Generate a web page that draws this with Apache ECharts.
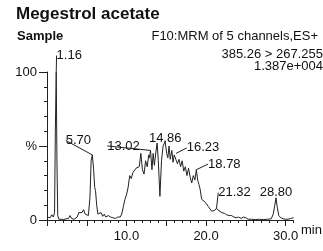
<!DOCTYPE html>
<html>
<head>
<meta charset="utf-8">
<script src="https://cdn.jsdelivr.net/npm/echarts@6/dist/echarts.min.js"></script>
<style>
  html, body { margin: 0; padding: 0; background: #fff; }
  #chart { width: 323px; height: 251px; }
</style>
</head>
<body>
<div id="chart"></div>
<script>
// retention time (min) and relative intensity (%) of the trace
var times = [0.0, 0.2, 0.4, 0.6, 0.8, 0.95, 1.05, 1.16, 1.25, 1.35, 1.5, 1.8, 2.1, 2.4, 2.7, 2.9, 3.1, 3.4, 3.6, 3.8,
  4.0, 4.2, 4.4, 4.6, 4.8, 5.0, 5.2, 5.4, 5.55, 5.70, 5.85, 6.0, 6.1, 6.25, 6.4, 6.6, 6.8, 7.0, 7.2, 7.4,
  7.7, 8.0, 8.3, 8.6, 8.9, 9.2, 9.4, 9.6, 9.8, 10.0, 10.2, 10.4, 10.6, 10.8, 11.0, 11.2, 11.4, 11.6, 11.8, 12.0,
  12.2, 12.4, 12.6, 12.8, 12.9, 13.02, 13.2, 13.35, 13.5, 13.7, 13.85, 14.0, 14.2, 14.4, 14.6, 14.86, 15.05, 15.2, 15.35, 15.5,
  15.7, 15.85, 16.0, 16.23, 16.4, 16.6, 16.8, 17.0, 17.2, 17.4, 17.6, 17.8, 18.0, 18.2, 18.4, 18.6, 18.78, 18.95, 19.1, 19.25,
  19.45, 19.7, 19.9, 20.1, 20.3, 20.5, 20.7, 20.9, 21.1, 21.32, 21.55, 21.8, 22.0, 22.3, 22.6, 22.9, 23.2, 23.5, 23.8, 24.1,
  24.4, 24.7, 25.0, 25.3, 25.7, 26.2, 26.7, 27.2, 27.7, 28.2, 28.45, 28.65, 28.80, 28.95, 29.15, 29.4, 29.7, 30.0, 30.3, 30.6, 31.0]
var intensity = [2, 3, 1.5, 3.5, 2, 5, 60, 100, 40, 3, 0.5, 0.5, 0.3, 0.8, 1, 3, 1, 0.5, 1.5, 2,
  5, 6, 5, 7, 4, 3, 3, 15, 40, 44, 35, 22, 20, 10, 4, 3, 5, 2.5, 4, 2,
  3, 2, 1.5, 1, 2, 2, 4, 9, 14, 17, 22, 30, 28, 32, 31, 35, 34, 36, 45, 34,
  31, 40, 36, 44, 42, 47, 34, 45, 37, 46, 52, 40, 16, 40, 50, 53, 45, 42, 50, 41,
  47, 39, 44, 45, 38, 41, 36, 40, 33, 36, 30, 35, 29, 25, 30, 27, 34, 27, 24, 21,
  14, 14, 12, 11, 9, 8, 6, 5, 6.5, 8, 6.5, 6, 5, 4.5, 3.5, 3, 3, 2, 1.5, 2,
  1, 2, 1.5, 0.5, 0.5, 0.3, 0.5, 0.3, 0.5, 0.8, 4, 10, 15, 9, 3, 1.5, 0.8, 0.5, 0.5, 1, 1.5]

// labelled peaks
var peakTimes = [1.16, 5.70, 13.02, 14.86, 16.23, 18.78, 21.32, 28.80]
var peakHeights = [100, 44, 47, 53, 45, 34, 8, 15]

var yTickLabels = { 0: '0', 50: '%', 100: '100' }
var xLabelValues = [10, 20, 30]
var xMajorTicks = [0, 5, 10, 15, 20, 25, 30]

// label offsets from the peak top (dx, dy) and whether a leader line is drawn
var peakOffsets = [[13, -5], [-14, -3], [-27, 7], [0, 8], [27, 6], [28, 6], [18, -4], [0, 6]]
var peakLeader = [true, true, true, false, true, true, true, false]

var trace = times.map(function(t, i) { return [t, intensity[i]] })
var peaks = peakTimes.map(function(t, i) {
  return { value: [t, peakHeights[i]], labelLine: { show: peakLeader[i] } }
})

var chart = echarts.init(document.getElementById('chart'))
var textColor = '#111'
var fontFamily = '"Liberation Sans", Arial, sans-serif'

chart.setOption({
  animation: false,
  backgroundColor: '#fff',
  textStyle: { fontFamily: fontFamily },
  title: [{
    text: 'Megestrol acetate',
    left: 11,
    top: 1,
    textStyle: { fontSize: 17, fontWeight: 'bold', color: textColor, fontFamily: fontFamily }
  }, {
    text: 'Sample',
    left: 12,
    top: 25,
    textStyle: { fontSize: 13, fontWeight: 'bold', color: textColor, fontFamily: fontFamily }
  }, {
    text: 'F10:MRM of 5 channels,ES+',
    right: 0,
    top: 25,
    textStyle: { fontSize: 13, fontWeight: 'normal', color: textColor, fontFamily: fontFamily }
  }, {
    text: '385.26 > 267.255',
    right: 0,
    top: 48,
    padding: 0,
    textStyle: { fontSize: 13, fontWeight: 'normal', color: textColor, fontFamily: fontFamily }
  }, {
    text: '1.387e+004',
    right: 0,
    top: 60,
    padding: 0,
    textStyle: { fontSize: 13, fontWeight: 'normal', color: textColor, fontFamily: fontFamily }
  }, {
    // x axis unit, sits just below the end of the axis
    text: 'min',
    left: 301,
    top: 224,
    padding: 0,
    textStyle: { fontSize: 13, fontWeight: 'normal', color: textColor, fontFamily: fontFamily }
  }],
  grid: {
    left: 47,
    right: 29.5,
    top: 72,
    bottom: 31
  },
  xAxis: [{
    type: 'value',
    min: 0,
    max: 31,
    interval: 1,
    axisLine: { lineStyle: { color: '#222', width: 1 } },
    axisTick: { length: 3, lineStyle: { color: '#222' } },
    axisLabel: { show: false },
    splitLine: { show: false }
  }, {
    type: 'value',
    min: 0,
    max: 31,
    position: 'bottom',
    axisLine: { show: false },
    axisTick: { length: 6, customValues: xMajorTicks, lineStyle: { color: '#222' } },
    axisLabel: {
      customValues: xLabelValues,
      margin: 10,
      fontSize: 13,
      color: textColor,
      formatter: function(v) { return v.toFixed(1) }
    },
    splitLine: { show: false }
  }],
  yAxis: {
    type: 'value',
    min: 0,
    max: 100,
    interval: 50,
    axisLine: { show: true, lineStyle: { color: '#222', width: 1 } },
    axisTick: { show: true, length: 8, lineStyle: { color: '#222' } },
    minorTick: { show: true, splitNumber: 5, length: 3, lineStyle: { color: '#222' } },
    axisLabel: {
      margin: 10,
      fontSize: 13,
      color: textColor,
      formatter: function(v) { return yTickLabels[v] }
    },
    splitLine: { show: false }
  },
  series: [{
    type: 'line',
    xAxisIndex: 0,
    data: trace,
    symbol: 'none',
    lineStyle: { color: '#222', width: 1 },
    silent: true
  }, {
    type: 'scatter',
    xAxisIndex: 0,
    data: peaks,
    symbolSize: 0,
    silent: true,
    itemStyle: { opacity: 1 },
    label: {
      show: true,
      position: 'top',
      distance: 5,
      fontSize: 13,
      color: textColor,
      formatter: function(p) { return p.value[0].toFixed(2) }
    },
    labelLine: { show: true, lineStyle: { color: '#222', width: 1 } },
    labelLayout: function(p) {
      var o = peakOffsets[p.dataIndex]
      return { dx: o[0], dy: o[1] }
    }
  }]
})
</script>
</body>
</html>
